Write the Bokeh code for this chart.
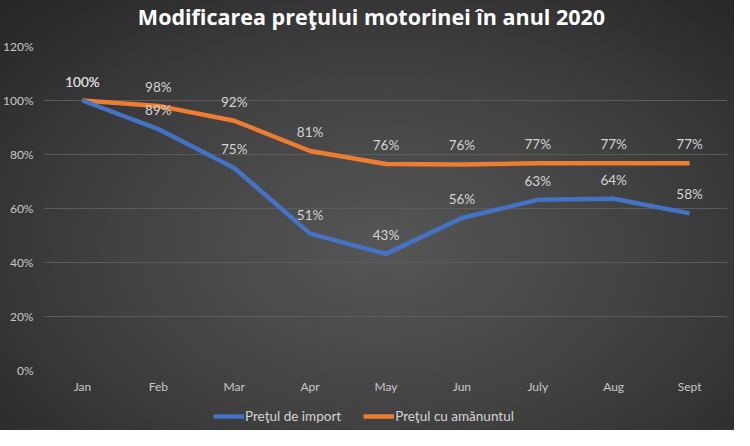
from bokeh.plotting import figure
from bokeh.layouts import column
from bokeh.models import (FactorRange, FixedTicker, NumeralTickFormatter, Legend,
                          LegendItem, ColumnDataSource, Label, Range1d)
from bokeh.core.properties import value
from bokeh.embed import file_html
from bokeh.resources import INLINE

months = ["Jan", "Feb", "Mar", "Apr", "May", "Jun", "July", "Aug", "Sept"]
import_price = [1.0, 0.894, 0.75, 0.507, 0.432, 0.565, 0.632, 0.636, 0.582]
retail_price = [1.0, 0.98, 0.925, 0.813, 0.765, 0.763, 0.768, 0.768, 0.768]
y_ticks = [0, 0.2, 0.4, 0.6, 0.8, 1.0, 1.2]
title_text = "Modificarea preţului motorinei în anul 2020"
series_names = ["Preţul de import", "Preţul cu amănuntul"]

BLUE = "#4472C4"
ORANGE = "#ED7D31"
FONT = "Lato"
W = 734


def strip(height):
    f = figure(width=W, height=height, output_backend="svg", toolbar_location=None,
               x_range=FactorRange(factors=months, range_padding=0), y_range=Range1d(5, 6),
               x_axis_type=None, y_axis_type=None, min_border=0)
    f.background_fill_color = None
    f.border_fill_color = None
    f.outline_line_color = None
    f.grid.grid_line_color = None
    return f


# title strip
p0 = strip(38)
p0.add_layout(Label(x=327, y=22, x_units="screen", y_units="screen", text=title_text,
                    text_font="Open Sans", text_font_size="21.5px", text_font_style="bold",
                    text_color="#ffffff", text_align="center", text_baseline="alphabetic"))

# main chart
p = figure(width=W, height=362, x_range=FactorRange(factors=months, range_padding=0),
           y_range=(0, 1.2), output_backend="svg", toolbar_location=None,
           min_border_left=41, min_border_right=7, min_border_top=8, min_border_bottom=30)
p.background_fill_color = None
p.border_fill_color = None
p.outline_line_color = None

p.xgrid.grid_line_color = None
p.ygrid.grid_line_color = "#5c5c5c"
p.ygrid.grid_line_width = 1
p.yaxis.ticker = FixedTicker(ticks=y_ticks)
p.yaxis.formatter = NumeralTickFormatter(format="0%")
for ax in (p.xaxis, p.yaxis):
    ax.axis_line_color = None
    ax.major_tick_line_color = None
    ax.minor_tick_line_color = None
    ax.major_tick_out = 0
    ax.major_tick_in = 0
    ax.minor_tick_out = 0
    ax.major_label_text_color = "#c8c8c8"
    ax.major_label_text_font = FONT
    ax.major_label_text_font_size = "12px"
p.xaxis.major_label_standoff = 8
p.yaxis.major_label_standoff = 11

src_imp = ColumnDataSource(dict(x=months, y=import_price,
                                t=[f"{round(v*100)}%" for v in import_price]))
src_ret = ColumnDataSource(dict(x=months, y=retail_price,
                                t=[f"{round(v*100)}%" for v in retail_price]))

r_ret = p.line("x", "y", source=src_ret, line_color=ORANGE, line_width=4.5, line_join="round")
r_imp = p.line("x", "y", source=src_imp, line_color=BLUE, line_width=4.5, line_join="round")

for src in (src_imp, src_ret):
    p.text("x", "y", text="t", source=src, text_font=value(FONT), text_font_size="13.5px",
           text_color="#d4d4d4", text_align="center", text_baseline="middle", y_offset=-19)

# legend strip (series drawn off-range so only the legend swatches show)
p2 = strip(30)
l_imp = p2.line("x", "y", source=src_imp, line_color=BLUE, line_width=4.5)
l_ret = p2.line("x", "y", source=src_ret, line_color=ORANGE, line_width=4.5)
legend = Legend(items=[LegendItem(label=series_names[0], renderers=[l_imp]),
                       LegendItem(label=series_names[1], renderers=[l_ret])],
                orientation="horizontal", location=(169, 6),
                background_fill_alpha=0, border_line_color=None,
                label_text_font=FONT, label_text_font_size="13.5px", label_text_color="#d4d4d4",
                glyph_width=31, glyph_height=16, label_standoff=1, spacing=22,
                padding=0, margin=0)
p2.add_layout(legend, "center")

layout = column(p0, p, p2, spacing=0)
layout.styles = {"background": "radial-gradient(ellipse farthest-corner at 52% 58%, #565656 0%, #414141 50%, #252525 100%)"}

open("out.html", "w").write(file_html(layout, INLINE))
